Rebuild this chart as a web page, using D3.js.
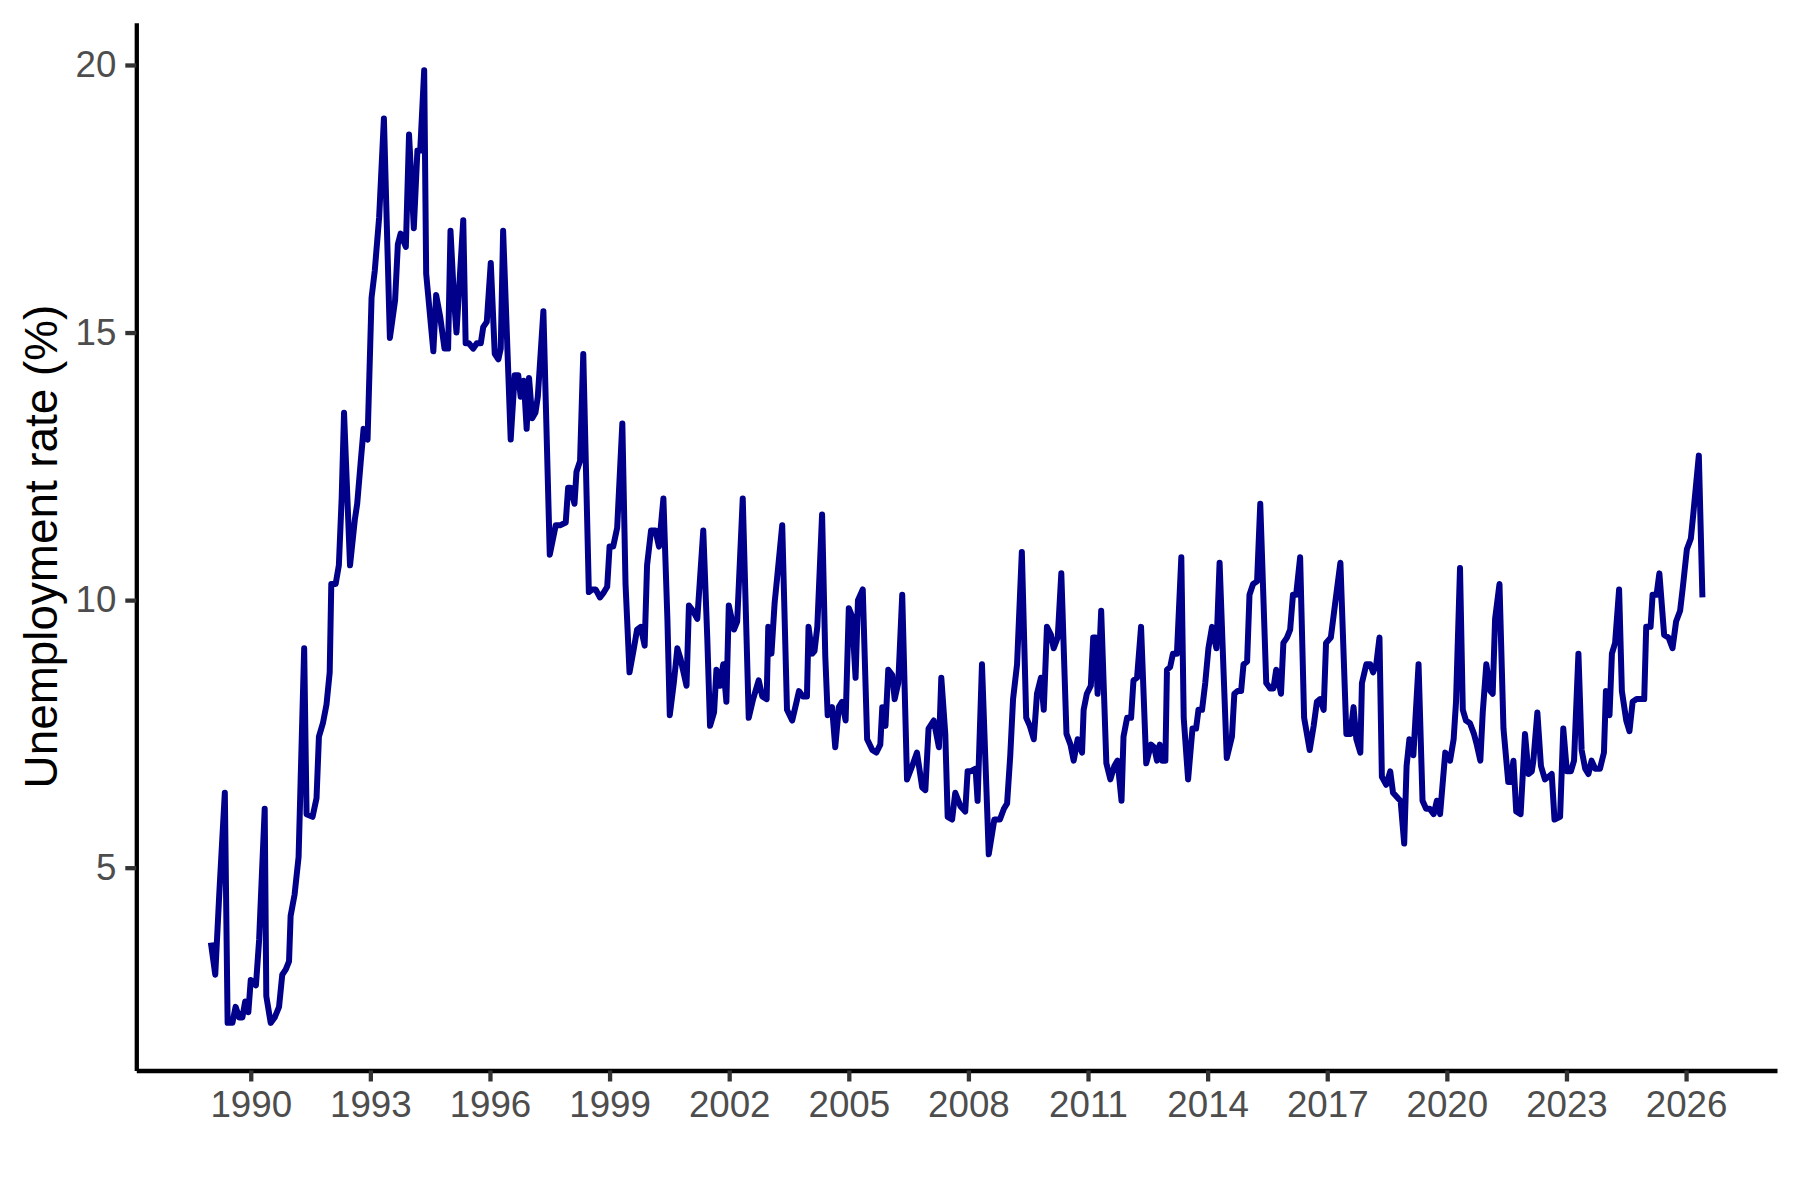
<!DOCTYPE html>
<html>
<head>
<meta charset="utf-8">
<script src="https://cdn.jsdelivr.net/npm/d3@7"></script>
<style>
  body { margin: 0; background: #ffffff; }
  text { font-family: "Liberation Sans", Arial, Helvetica, sans-serif; }
</style>
</head>
<body>
<svg id="chart" width="1800" height="1200"></svg>
<script>
// ---- Data (decimal year, unemployment rate %) ----
const decimalYears = [
  1989.00,1989.11,1989.21,1989.35,1989.42,1989.54,1989.62,1989.71,1989.79,1989.86,1989.94,
  1990.00,1990.13,1990.21,1990.35,1990.39,1990.50,1990.60,1990.71,1990.79,1990.88,1990.96,
  1991.00,1991.10,1991.20,1991.25,1991.34,1991.40,1991.55,1991.65,1991.71,1991.81,1991.90,1991.98,
  1992.02,1992.13,1992.21,1992.28,1992.34,1992.49,1992.61,1992.67,1992.76,1992.83,1992.93,
  1993.03,1993.11,1993.22,1993.34,1993.49,1993.62,1993.69,1993.76,1993.89,1993.97,
  1994.09,1994.18,1994.25,1994.35,1994.40,1994.58,1994.65,1994.75,1994.86,1994.95,
  1995.01,1995.10,1995.16,1995.33,1995.39,1995.47,1995.58,1995.67,1995.77,1995.83,1995.92,
  1996.02,1996.12,1996.21,1996.27,1996.33,1996.52,1996.62,1996.71,1996.77,1996.85,1996.92,1996.98,
  1997.06,1997.14,1997.20,1997.34,1997.50,1997.65,1997.77,1997.90,1997.96,
  1998.02,1998.12,1998.17,1998.26,1998.34,1998.48,1998.57,1998.65,1998.76,1998.86,1998.94,
  1999.00,1999.09,1999.19,1999.32,1999.40,1999.50,1999.61,1999.69,1999.78,1999.88,1999.94,
  2000.04,2000.15,2000.24,2000.35,2000.45,2000.51,2000.61,2000.70,2000.78,2000.93,2000.99,
  2001.09,2001.20,2001.35,2001.45,2001.52,2001.62,2001.68,2001.77,2001.85,2001.93,2001.99,
  2002.12,2002.20,2002.34,2002.49,2002.60,2002.74,2002.83,2002.94,2002.98,
  2003.06,2003.14,2003.20,2003.33,2003.45,2003.58,2003.69,2003.75,2003.85,2003.95,2003.99,
  2004.08,2004.14,2004.21,2004.33,2004.41,2004.47,2004.58,2004.66,2004.75,2004.83,2004.92,
  2005.00,2005.08,2005.17,2005.23,2005.35,2005.46,2005.59,2005.69,2005.79,2005.84,2005.92,2005.99,
  2006.09,2006.15,2006.24,2006.34,2006.46,2006.59,2006.71,2006.84,2006.92,
  2007.00,2007.13,2007.26,2007.32,2007.42,2007.48,2007.59,2007.67,2007.80,2007.92,2007.98,
  2008.05,2008.18,2008.23,2008.34,2008.51,2008.65,2008.79,2008.89,2008.97,
  2009.05,2009.12,2009.22,2009.34,2009.45,2009.54,2009.64,2009.72,2009.82,2009.89,2009.97,
  2010.07,2010.14,2010.24,2010.33,2010.46,2010.56,2010.64,2010.74,2010.85,2010.89,2010.97,
  2011.07,2011.13,2011.19,2011.24,2011.33,2011.46,2011.56,2011.66,2011.74,2011.84,2011.89,2011.98,
  2012.08,2012.14,2012.23,2012.33,2012.46,2012.58,2012.66,2012.73,2012.80,2012.86,2012.94,2012.98,
  2013.06,2013.13,2013.23,2013.34,2013.40,2013.51,2013.62,2013.71,2013.77,2013.86,2013.94,
  2014.02,2014.11,2014.22,2014.30,2014.40,2014.48,2014.61,2014.67,2014.75,2014.84,2014.90,2014.99,
  2015.05,2015.14,2015.24,2015.32,2015.47,2015.57,2015.65,2015.72,2015.84,2015.90,2015.99,
  2016.07,2016.14,2016.22,2016.32,2016.42,2016.56,2016.66,2016.74,2016.82,2016.91,2016.97,
  2017.09,2017.20,2017.33,2017.48,2017.58,2017.66,2017.73,2017.83,2017.87,2017.98,
  2018.08,2018.15,2018.23,2018.31,2018.37,2018.48,2018.58,2018.65,2018.77,2018.84,2018.93,2018.99,
  2019.06,2019.16,2019.29,2019.39,2019.48,2019.57,2019.67,2019.75,2019.83,2019.96,
  2020.08,2020.17,2020.23,2020.33,2020.40,2020.48,2020.58,2020.68,2020.75,2020.84,2020.90,2020.99,
  2021.09,2021.15,2021.21,2021.32,2021.42,2021.54,2021.60,2021.67,2021.74,2021.85,2021.96,
  2022.05,2022.13,2022.17,2022.27,2022.36,2022.46,2022.55,2022.63,2022.70,2022.84,2022.92,
  2023.01,2023.11,2023.19,2023.30,2023.38,2023.47,2023.55,2023.63,2023.72,2023.84,2023.94,2023.99,
  2024.08,2024.14,2024.22,2024.32,2024.39,2024.50,2024.58,2024.66,2024.76,2024.95,
  2025.00,2025.11,2025.16,2025.26,2025.33,2025.45,2025.56,2025.66,2025.75,2025.85,2025.92,
  2026.02,2026.12,2026.18,2026.32,2026.41
];

const unemploymentRates = [
  3.6,3.0,4.5,6.4,2.1,2.1,2.4,2.2,2.2,2.5,2.3,
  2.9,2.8,3.65,6.1,2.6,2.1,2.2,2.4,3.0,3.1,3.25,
  4.1,4.5,5.2,6.6,9.1,6.0,5.95,6.3,7.45,7.7,8.05,8.65,
  10.3,10.3,10.65,11.9,13.5,10.65,11.5,11.8,12.6,13.2,13.0,
  15.65,16.15,17.15,19.0,14.9,15.6,16.65,16.85,16.6,18.7,
  16.95,18.4,18.4,19.9,16.1,14.65,15.7,15.3,14.7,14.7,
  16.9,15.6,15.0,17.1,14.8,14.8,14.7,14.8,14.8,15.1,15.2,
  16.3,14.6,14.5,14.7,16.9,13.0,14.2,14.2,13.8,14.1,13.2,14.15,
  13.4,13.5,13.8,15.4,10.85,11.4,11.4,11.45,12.1,
  12.1,11.8,12.4,12.6,14.6,10.15,10.2,10.2,10.05,10.15,10.25,
  11.0,11.0,11.35,13.3,10.3,8.65,9.1,9.45,9.5,9.15,10.65,
  11.3,11.3,11.0,11.9,9.65,7.85,8.45,9.1,8.9,8.4,9.9,
  9.8,9.65,11.3,9.3,7.65,7.9,8.7,8.4,8.8,8.1,9.9,
  9.45,9.6,11.9,7.8,8.15,8.5,8.2,8.15,9.5,
  9.0,9.95,10.4,11.4,7.95,7.75,8.1,8.3,8.2,8.2,9.5,
  9.0,9.05,9.5,11.6,8.95,7.85,8.0,7.25,8.0,8.1,7.75,
  9.85,9.7,8.55,10.0,10.2,7.4,7.2,7.15,7.3,8.0,7.65,8.7,
  8.6,8.15,8.45,10.1,6.65,6.9,7.15,6.5,6.45,
  7.6,7.75,7.25,8.55,7.5,5.95,5.9,6.4,6.15,6.05,6.8,
  6.8,6.85,6.25,8.8,5.25,5.9,5.9,6.1,6.2,
  7.1,8.15,8.8,10.9,7.8,7.65,7.4,8.25,8.55,7.95,9.5,
  9.35,9.1,9.3,10.5,7.5,7.3,7.0,7.4,7.15,7.95,8.25,
  8.4,9.3,9.3,8.25,9.8,6.95,6.65,6.9,7.0,6.25,7.45,7.8,
  7.8,8.5,8.55,9.5,6.95,7.3,7.25,7.0,7.3,7.0,7.0,8.7,
  8.75,9.0,9.0,10.8,7.8,6.65,7.6,7.6,7.95,7.95,8.45,
  9.1,9.5,9.1,10.7,8.65,7.05,7.45,8.25,8.3,8.3,8.8,8.85,
  10.1,10.3,10.35,11.8,8.45,8.35,8.35,8.7,8.25,9.2,9.3,
  9.45,10.1,10.1,10.8,7.8,7.2,7.65,8.1,8.15,7.95,9.2,
  9.3,9.95,10.7,7.5,7.5,8.0,7.4,7.15,8.45,8.8,
  8.8,8.65,8.8,9.3,6.7,6.55,6.8,6.4,6.3,6.25,5.45,6.9,
  7.4,7.1,8.8,6.25,6.1,6.1,6.0,6.25,6.0,7.15,
  7.0,7.4,8.1,10.6,7.95,7.75,7.7,7.5,7.3,7.0,7.9,8.8,
  8.3,8.25,9.65,10.3,7.6,6.6,6.6,7.0,6.05,6.0,7.5,
  6.75,6.8,7.0,7.9,6.9,6.65,6.7,6.75,5.9,5.95,7.6,
  6.8,6.8,7.0,9.0,7.2,6.85,6.75,7.0,6.85,6.85,7.15,8.3,
  7.85,9.0,9.2,10.2,8.3,7.75,7.55,8.1,8.15,8.15,
  9.5,9.5,10.1,10.1,10.5,9.35,9.3,9.1,9.6,9.8,10.25,
  10.95,11.15,11.6,12.7,10.05
];

const xTickYears = [1990, 1993, 1996, 1999, 2002, 2005, 2008, 2011, 2014, 2017, 2020, 2023, 2026];
const yTickValues = [5, 10, 15, 20];
const yAxisTitle = "Unemployment rate (%)";

// ---- Layout ----
const W = 1800, H = 1200;
const panel = { left: 136.3, right: 1777, top: 22.7, bottom: 1070.5 };
const lineColor = "#00008B";

const series = decimalYears.map((t, i) => ({ t, v: unemploymentRates[i] }));

// ggplot-like 5% expansion
function expand(ext, m) { const r = ext[1] - ext[0]; return [ext[0] - m * r, ext[1] + m * r]; }
const xDom = expand(d3.extent(series, d => d.t), 0.05);
const yDom = expand(d3.extent(series, d => d.v), 0.05);

const x = d3.scaleLinear().domain(xDom).range([panel.left, panel.right]);
const y = d3.scaleLinear().domain(yDom).range([panel.bottom, panel.top]);

const svg = d3.select("#chart");
svg.append("rect").attr("width", W).attr("height", H).attr("fill", "#ffffff");

// data line
const line = d3.line().x(d => x(d.t)).y(d => y(d.v));
svg.append("path")
  .datum(series)
  .attr("d", line)
  .attr("fill", "none")
  .attr("stroke", lineColor)
  .attr("stroke-width", 6)
  .attr("stroke-linejoin", "round")
  .attr("stroke-linecap", "butt");

// axes
const tickLen = 11, tickPad = 9, axisFont = 36.7;
const xAxis = d3.axisBottom(x).tickValues(xTickYears).tickFormat(d3.format("d"))
  .tickSize(tickLen).tickSizeOuter(0).tickPadding(tickPad);
const yAxis = d3.axisLeft(y).tickValues(yTickValues).tickFormat(d3.format("d"))
  .tickSize(tickLen).tickSizeOuter(0).tickPadding(tickPad);

const gx = svg.append("g").attr("transform", `translate(0,${panel.bottom})`).call(xAxis);
const gy = svg.append("g").attr("transform", `translate(${panel.left},0)`).call(yAxis);

[gx, gy].forEach(g => {
  g.select(".domain").attr("stroke", "#000000").attr("stroke-width", 4.3);
  g.selectAll(".tick line").attr("stroke", "#333333").attr("stroke-width", 4.3);
  g.selectAll(".tick text")
    .attr("fill", "#4D4D4D")
    .style("font-size", axisFont + "px")
    .style("font-family", '"Liberation Sans", Arial, Helvetica, sans-serif');
});

// y-axis title
svg.append("text")
  .attr("transform", `translate(57,${(panel.top + panel.bottom) / 2}) rotate(-90)`)
  .attr("text-anchor", "middle")
  .attr("fill", "#000000")
  .style("font-size", "45.8px")
  .text(yAxisTitle);
</script>
</body>
</html>
